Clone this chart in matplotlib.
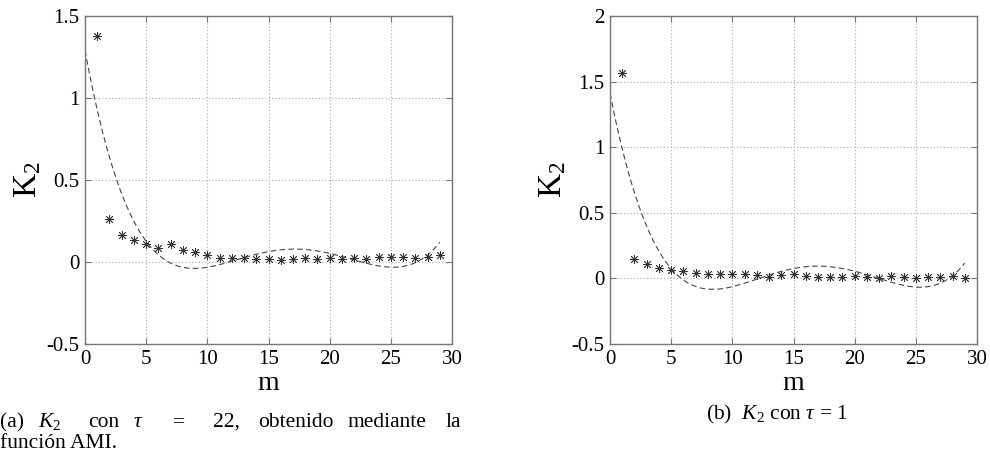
import numpy as np
import matplotlib
matplotlib.use("Agg")
import matplotlib.pyplot as plt

plt.rcParams["font.family"] = ["Liberation Serif", "DejaVu Serif"]
plt.rcParams["mathtext.fontset"] = "custom"
plt.rcParams["mathtext.rm"] = "Liberation Serif"
plt.rcParams["mathtext.it"] = "Liberation Serif:italic"

# Embedding dimension m
m = np.arange(1, 30)

# K2 estimates, tau = 22 (AMI)
k2_tau22 = [1.38, 0.265, 0.167, 0.134, 0.111, 0.088, 0.109, 0.074, 0.060, 0.043,
            0.023, 0.023, 0.023, 0.020, 0.020, 0.010, 0.017, 0.027, 0.017, 0.023,
            0.017, 0.023, 0.020, 0.030, 0.030, 0.030, 0.023, 0.033, 0.040]

# K2 estimates, tau = 1
k2_tau1 = [1.564, 0.146, 0.108, 0.082, 0.067, 0.056, 0.044, 0.036, 0.031, 0.036,
           0.036, 0.026, 0.013, 0.026, 0.031, 0.018, 0.010, 0.010, 0.010, 0.015,
           0.010, 0.005, 0.015, 0.010, 0.005, 0.010, 0.010, 0.015, 0.005]

x_ticks = [0, 5, 10, 15, 20, 25, 30]
y_ticks_a = [-0.5, 0, 0.5, 1, 1.5]
y_ticks_b = [-0.5, 0, 0.5, 1, 1.5, 2]

W, H = 990, 457
fig = plt.figure(figsize=(W / 100, H / 100), dpi=100)

star = (8, 2, 0)


def panel(rect, values, yticks, ylim):
    ax = fig.add_axes(rect)
    ax.plot(m, values, linestyle="none", marker=star, markersize=6.5,
            markeredgewidth=0.6, color="#333333", zorder=3)
    # quartic least-squares trend of the estimates
    coef = np.polyfit(m, values, 4)
    xs = np.linspace(0, 29, 300)
    ax.plot(xs, np.polyval(coef, xs), linestyle=(0, (5, 3)), linewidth=0.8,
            color="#444444", zorder=2)
    ax.set_xlim(0, 30)
    ax.set_ylim(*ylim)
    ax.set_xticks(x_ticks)
    ax.set_yticks(yticks)
    ax.set_xticklabels([str(t) for t in x_ticks])
    ax.set_yticklabels([("%g" % t) for t in yticks])
    ax.grid(True, linestyle=(0, (1, 2)), color="#aaaaaa", linewidth=0.8)
    for s in ax.spines.values():
        s.set_color("#777777")
        s.set_linewidth(1.0)
    ax.tick_params(direction="in", length=4, width=0.8, color="#777777",
                   labelsize=15, pad=4, top=True, right=True)
    ax.set_xlabel("m", fontsize=20, labelpad=2)
    ax.set_ylabel(r"K$_2$", fontsize=24, labelpad=2)
    return ax


ax_a = panel([85 / W, 1 - 344 / H, 367 / W, 328 / H], k2_tau22, y_ticks_a, (-0.5, 1.5))
ax_b = panel([610 / W, 1 - 344 / H, 367 / W, 328 / H], k2_tau1, y_ticks_b, (-0.5, 2))

# Caption (a), justified first line
cap_fs = 15.5
words = [(0, "(a)"), (38, r"$K_2$"), (88, "con"), (133, r"$\tau$"), (173, "="),
         (213, "22,"), (258, "obtenido"), (348, "mediante"), (446, "la")]
for x, w in words:
    fig.text(x / W, 1 - 427 / H, w, fontsize=cap_fs, ha="left", va="baseline")
fig.text(0 / W, 1 - 448 / H, "función AMI.", fontsize=cap_fs, ha="left", va="baseline")

# Caption (b)
fig.text(777 / W, 1 - 419 / H, r"(b)  $K_2$ con $\tau$ = 1", fontsize=cap_fs,
         ha="center", va="baseline")

fig.savefig("out.png", dpi=100)
